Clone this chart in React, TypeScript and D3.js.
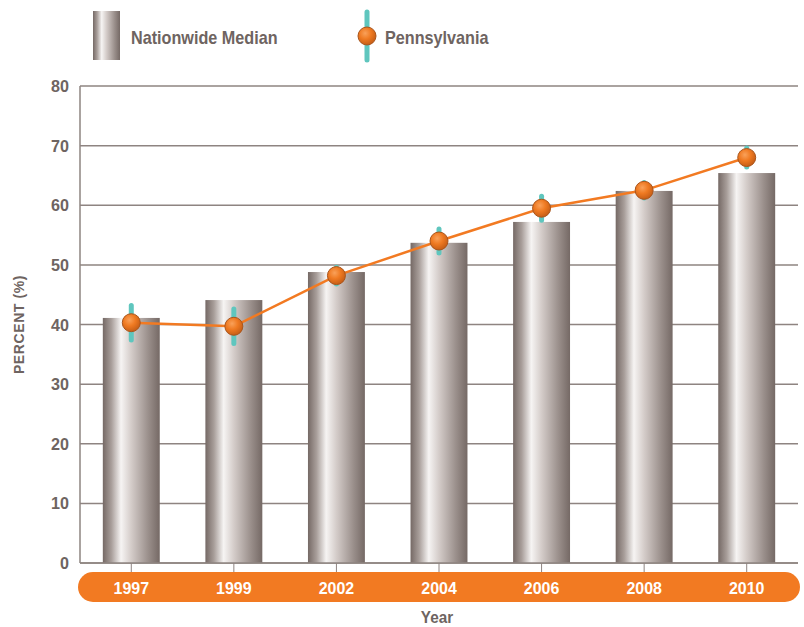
import React from "react";
import * as d3 from "d3";

const years = ["1997", "1999", "2002", "2004", "2006", "2008", "2010"];
const nationwide = [41.1, 44.1, 48.8, 53.7, 57.2, 62.4, 65.4];
const pennsylvania = [40.3, 39.7, 48.2, 54.0, 59.5, 62.5, 68.0];
const paError = [2.9, 2.9, 1.4, 2.0, 2.0, 1.3, 1.6];
const yTicks = [0, 10, 20, 30, 40, 50, 60, 70, 80];

const W = 804, H = 627;
const left = 80, right = 798, top = 86, bottom = 563;
const textColor = "#6e6461";
const gridColor = "#8e8481";
const orange = "#f27a22";
const teal = "#5fc6be";
const font = "'Liberation Sans', Arial, sans-serif";

function T(props: { x: number; y: number; sx: number; size: number; fill: string; anchor?: string; children: React.ReactNode; rotate?: number; ls?: number }) {
  const { x, y, sx, size, fill, anchor = "start", children, rotate = 0, ls = 0 } = props;
  return (
    <text
      transform={`translate(${x},${y}) rotate(${rotate}) scale(${sx},1)`}
      textAnchor={anchor}
      fontFamily={font}
      fontWeight="bold"
      fontSize={size}
      fill={fill}
      letterSpacing={ls}
    >
      {children}
    </text>
  );
}

export default function App() {
  const x = d3.scaleBand<string>().domain(years).range([left, right]).paddingInner(0.445).paddingOuter(0.2225);
  const y = d3.scaleLinear().domain([0, 80]).range([bottom, top]);
  const cx = (i: number) => x(years[i])! + x.bandwidth() / 2;
  const line = d3.line<number>().x((_, i) => cx(i)).y((d) => y(d));

  return (
    <svg width={W} height={H} style={{ position: "absolute", left: 0, top: 0 }}>
      <defs>
        <linearGradient id="barGrad" x1="0" x2="1" y1="0" y2="0">
          <stop offset="0%" stopColor="#756965" />
          <stop offset="15%" stopColor="#a89e9a" />
          <stop offset="32%" stopColor="#f6f4f3" />
          <stop offset="50%" stopColor="#d4ccc9" />
          <stop offset="80%" stopColor="#9a8f8b" />
          <stop offset="100%" stopColor="#756965" />
        </linearGradient>
        <radialGradient id="dotGrad" cx="40%" cy="35%" r="65%">
          <stop offset="0%" stopColor="#f9a15a" />
          <stop offset="50%" stopColor="#ef7a22" />
          <stop offset="100%" stopColor="#c75e16" />
        </radialGradient>
      </defs>

      {/* Legend */}
      <rect x={93} y={11} width={27} height={49} fill="url(#barGrad)" />
      <T x={131} y={44} sx={0.9} size={18} fill={textColor}>Nationwide Median</T>
      <line x1={367} x2={367} y1={12} y2={60} stroke={teal} strokeWidth={5} strokeLinecap="round" />
      <circle cx={367} cy={36} r={9} fill="url(#dotGrad)" stroke="#a9551c" strokeWidth={1} />
      <T x={385} y={44} sx={0.9} size={18} fill={textColor}>Pennsylvania</T>

      {/* Grid */}
      {yTicks.map((t) => (
        <line key={t} x1={left} x2={right} y1={y(t)} y2={y(t)} stroke={gridColor} strokeWidth={1.5} />
      ))}
      <line x1={left} x2={left} y1={y(80)} y2={y(0)} stroke={gridColor} strokeWidth={1.5} />
      {yTicks.map((t) => (
        <T key={t} x={69} y={y(t) + 6} sx={0.95} size={17} anchor="end" fill={textColor}>{t}</T>
      ))}
      <T x={24} y={(y(0) + y(80)) / 2} sx={1} size={14} anchor="middle" rotate={-90} ls={0.6} fill={textColor}>PERCENT (%)</T>

      {/* Bars */}
      {nationwide.map((v, i) => (
        <rect key={i} x={x(years[i])} y={y(v)} width={x.bandwidth()} height={y(0) - y(v)} fill="url(#barGrad)" />
      ))}
      <line x1={left} x2={right} y1={y(0)} y2={y(0)} stroke={gridColor} strokeWidth={1.5} />

      {/* X axis ticks and pill */}
      {years.map((yr, i) => (
        <line key={yr} x1={cx(i)} x2={cx(i)} y1={y(0)} y2={574} stroke={gridColor} strokeWidth={1} />
      ))}
      <rect x={78} y={572} width={722} height={30} rx={15} ry={15} fill={orange} />
      {years.map((yr, i) => (
        <T key={yr} x={cx(i)} y={594} sx={0.94} size={17} anchor="middle" fill="#ffffff">{yr}</T>
      ))}
      <T x={437} y={623} sx={0.9} size={17} anchor="middle" fill={textColor}>Year</T>

      {/* PA error bars */}
      {pennsylvania.map((v, i) => (
        <line key={i} x1={cx(i)} x2={cx(i)} y1={y(v + paError[i])} y2={y(v - paError[i])} stroke={teal} strokeWidth={5} strokeLinecap="round" />
      ))}
      <path d={line(pennsylvania) || ""} fill="none" stroke={orange} strokeWidth={2.5} />
      {pennsylvania.map((v, i) => (
        <circle key={i} cx={cx(i)} cy={y(v)} r={9} fill="url(#dotGrad)" stroke="#a9551c" strokeWidth={1} />
      ))}
    </svg>
  );
}
